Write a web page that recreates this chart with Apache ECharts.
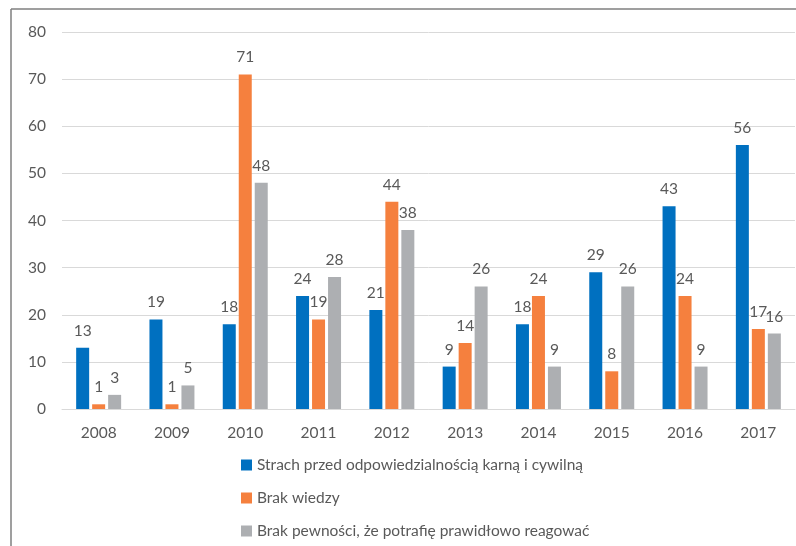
<!DOCTYPE html>
<html><head><meta charset="utf-8">
<script src="https://cdn.jsdelivr.net/npm/echarts@6/dist/echarts.min.js"></script>
<style>html,body{margin:0;padding:0;background:#fff}#c{width:796px;height:546px}</style>
</head><body><div id="c"></div>
<script>
const years = ['2008','2009','2010','2011','2012','2013','2014','2015','2016','2017'];
const seriesNames = ['Strach przed odpowiedzialnością karną i cywilną','Brak wiedzy','Brak pewności, że potrafię prawidłowo reagować'];
const strach = [13,19,18,24,21,9,18,29,43,56];
const brakWiedzy = [1,1,71,19,44,14,24,8,24,17];
const brakPewnosci = [3,5,48,28,38,26,9,26,9,16];
const colors = ['#0070C0','#F5803E','#ADAFB2'];
const FONT = 'Lato';
const chart = echarts.init(document.getElementById('c'));
const mk = (name, data, color) => ({
  name, type:'bar', data, barWidth:13, barGap:'23%',
  itemStyle:{color},
  label:{show:true, position:'top', distance:9, color:'#595959', fontSize:15.5, fontFamily:FONT}
});
chart.setOption({
  animation:false,
  color: colors,
  grid:{left:62, right:1, top:32, bottom:137, containLabel:false},
  xAxis:{type:'category', data:years,
    axisLine:{lineStyle:{color:'#D9D9D9'}}, axisTick:{show:false},
    axisLabel:{color:'#595959', fontSize:15.5, fontFamily:FONT, margin:16}},
  yAxis:{type:'value', min:0, max:80, interval:10,
    axisLine:{show:false}, axisTick:{show:false},
    splitLine:{lineStyle:{color:'#D9D9D9'}},
    axisLabel:{color:'#595959', fontSize:15.5, fontFamily:FONT, margin:16}},
  legend:{orient:'vertical', left:241, top:457, height:90, padding:0, itemWidth:11, itemHeight:11, itemGap:17,
    icon:'rect', textStyle:{color:'#595959', fontSize:15.5, fontFamily:FONT}, data:seriesNames},
  series:[mk(seriesNames[0],strach,colors[0]), mk(seriesNames[1],brakWiedzy,colors[1]), mk(seriesNames[2],brakPewnosci,colors[2])],
  graphic:[
    {type:'line', shape:{x1:11,y1:9,x2:11,y2:546}, style:{stroke:'#7F7F7F', lineWidth:1.5}},
    {type:'line', shape:{x1:11,y1:9,x2:796,y2:9}, style:{stroke:'#7F7F7F', lineWidth:1.5}}
  ]
});
</script></body></html>
